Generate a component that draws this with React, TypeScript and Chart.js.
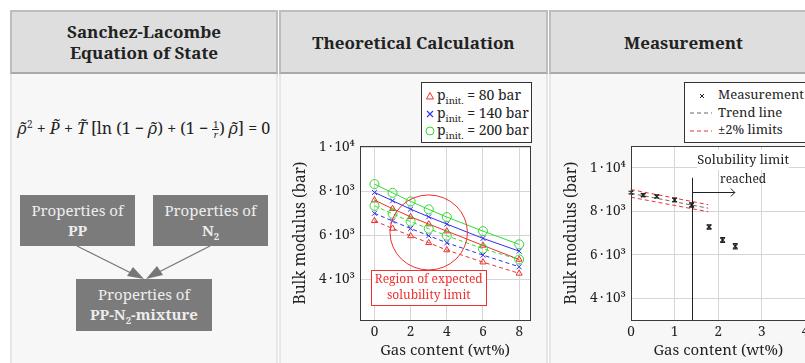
import React, { useEffect, useRef } from 'react';
import { Chart, registerables } from 'chart.js';
Chart.register(...registerables);

const FONT = '"Noto Serif", "Liberation Serif"';
const TXT = '#222222';
const GRID = '#d6d6d6';
const RED = '#ee3030';
const BLUE = '#3030ee';
const GREEN = '#30dd30';
const TS = '\u2009';

// ---- Theoretical calculation ----
const calcGas = [0, 1, 2, 3, 4, 6, 8];
const solid80 = [7590, 7200, 6830, 6500, 6180, 5530, 4890];
const solid140 = [7940, 7560, 7180, 6830, 6500, 5850, 5270];
const solid200 = [8320, 7920, 7530, 7170, 6820, 6180, 5580];
const dashed80 = [6650, 6300, 5960, 5650, 5320, 4770, 4260];
const dashed140 = [6990, 6640, 6300, 5970, 5650, 5090, 4560];
const dashed200 = [7330, 6970, 6610, 6290, 5970, 5380, 4890];
const calcXTicks = [0, 2, 4, 6, 8];
const bulkTicks = [4000, 6000, 8000, 10000];
const bulkTickLabels = [`4${TS}·${TS}10³`, `6${TS}·${TS}10³`, `8${TS}·${TS}10³`, `1${TS}·${TS}10⁴`];
const calcLegend = ['80 bar', '140 bar', '200 bar'];

// ---- Measurement ----
const measGas = [0, 0.28, 0.59, 1.0, 1.39, 1.79, 2.1, 2.39];
const measBulk = [8860, 8740, 8680, 8520, 8290, 7280, 6680, 6390];
const measErr = [60, 70, 70, 80, 100, 100, 110, 120];
const trendGas = [0, 1.77];
const trendBulk = [8820, 8140];
const upperBulk = [8996, 8303];
const lowerBulk = [8644, 7977];
const solubilityGas = 1.4;
const measXTicks = [0, 1, 2, 3, 4];

const frame = {
  id: 'frame',
  beforeDraw(chart: any) {
    const { ctx, chartArea: a } = chart;
    ctx.save();
    ctx.fillStyle = '#ffffff';
    ctx.fillRect(a.left, a.top, a.right - a.left, a.bottom - a.top);
    ctx.restore();
  },
  afterDraw(chart: any) {
    const { ctx, chartArea: a } = chart;
    ctx.save();
    ctx.strokeStyle = '#3a3a3a';
    ctx.lineWidth = 1;
    ctx.strokeRect(Math.round(a.left) + 0.5, Math.round(a.top) + 0.5, Math.round(a.right - a.left), Math.round(a.bottom - a.top));
    ctx.restore();
  },
};

const regionPlugin = {
  id: 'region',
  afterDatasetsDraw(chart: any) {
    const { ctx } = chart;
    const x = chart.scales.x, y = chart.scales.y;
    const cx = x.getPixelForValue(3), cy = y.getPixelForValue(6120);
    const rx = x.getPixelForValue(3 + 2.14) - cx;
    const ry = y.getPixelForValue(6120 - 1705) - cy;
    ctx.save();
    ctx.strokeStyle = RED;
    ctx.lineWidth = 1;
    ctx.beginPath();
    ctx.ellipse(cx, cy, rx, ry, 0, 0, Math.PI * 2);
    ctx.stroke();
    const bx = x.getPixelForValue(3.0), by = y.getPixelForValue(3620);
    const w = 115, h = 35;
    ctx.fillStyle = '#ffffff';
    ctx.fillRect(Math.round(bx - w / 2) + 0.5, Math.round(by - h / 2) + 0.5, w, h);
    ctx.strokeRect(Math.round(bx - w / 2) + 0.5, Math.round(by - h / 2) + 0.5, w, h);
    ctx.fillStyle = RED;
    ctx.font = `12px ${FONT}`;
    ctx.textAlign = 'center';
    ctx.textBaseline = 'middle';
    ctx.fillText('Region of expected', bx, by - 8);
    ctx.fillText('solubility limit', bx, by + 8);
    ctx.restore();
  },
};

const measPlugin = {
  id: 'meas',
  afterDatasetsDraw(chart: any) {
    const { ctx } = chart;
    const x = chart.scales.x, y = chart.scales.y;
    ctx.save();
    ctx.strokeStyle = '#222';
    ctx.lineWidth = 1.2;
    measGas.forEach((g, i) => {
      const px = x.getPixelForValue(g);
      const y1 = y.getPixelForValue(measBulk[i] + measErr[i]);
      const y2 = y.getPixelForValue(measBulk[i] - measErr[i]);
      ctx.beginPath();
      ctx.moveTo(px, y1); ctx.lineTo(px, y2);
      ctx.moveTo(px - 2.5, y1); ctx.lineTo(px + 2.5, y1);
      ctx.moveTo(px - 2.5, y2); ctx.lineTo(px + 2.5, y2);
      ctx.stroke();
    });
    const sx = Math.round(x.getPixelForValue(solubilityGas)) + 0.5;
    ctx.lineWidth = 1;
    ctx.beginPath();
    ctx.moveTo(sx, y.getPixelForValue(3000));
    ctx.lineTo(sx, y.getPixelForValue(9540));
    ctx.stroke();
    const ay = Math.round(y.getPixelForValue(8870)) + 0.5;
    const ax2 = x.getPixelForValue(2.38);
    ctx.beginPath();
    ctx.moveTo(sx, ay); ctx.lineTo(ax2, ay);
    ctx.moveTo(ax2 - 4, ay - 4); ctx.lineTo(ax2, ay); ctx.lineTo(ax2 - 4, ay + 4);
    ctx.stroke();
    const tx = x.getPixelForValue(2.57);
    const t1 = y.getPixelForValue(10356);
    const t2 = y.getPixelForValue(9437);
    ctx.fillStyle = '#ffffff';
    ctx.fillRect(tx - 46, t1 - 10, 92, 20);
    ctx.fillStyle = TXT;
    ctx.font = `13px ${FONT}`;
    ctx.textAlign = 'center';
    ctx.textBaseline = 'middle';
    ctx.fillText('Solubility limit', tx, t1);
    ctx.font = `12px ${FONT}`;
    ctx.fillText('reached', tx, t2);
    ctx.restore();
  },
};

function makeScales(xMin: number, xMax: number, xTicks: number[], yMin: number, yMax: number) {
  return {
    x: {
      type: 'linear', min: xMin, max: xMax,
      afterBuildTicks: (ax: any) => { ax.ticks = xTicks.map((v) => ({ value: v })); },
      afterFit: (ax: any) => { ax.height = 43; },
      grid: { color: GRID, drawTicks: false, lineWidth: 1 },
      border: { display: false },
      ticks: { padding: 4, color: TXT, font: { family: FONT, size: 13.5 }, maxRotation: 0, autoSkip: false, callback: (v: any) => String(v) },
      title: { display: true, text: 'Gas content (wt%)', color: TXT, font: { family: FONT, size: 15 }, padding: { top: 0, bottom: 3 } },
    },
    y: {
      type: 'linear', min: yMin, max: yMax,
      afterBuildTicks: (ax: any) => { ax.ticks = bulkTicks.map((v) => ({ value: v })); },
      afterFit: (ax: any) => { ax.width = 80; },
      grid: { color: GRID, drawTicks: false, lineWidth: 1 },
      border: { display: false },
      ticks: { padding: 5, color: TXT, font: { family: FONT, size: 13.5 }, autoSkip: false, callback: (v: any) => bulkTickLabels[bulkTicks.indexOf(v)] },
      title: { display: true, text: 'Bulk modulus (bar)', color: TXT, font: { family: FONT, size: 15.5 }, padding: { top: 11, bottom: 0 } },
    },
  };
}

function theoryConfig(): any {
  const ds = (vals: number[], color: string, style: string, r: number, dashed: boolean) => ({
    data: calcGas.map((x, i) => ({ x, y: vals[i] })),
    showLine: true,
    borderColor: color,
    borderWidth: 1,
    borderDash: dashed ? [4, 3] : [],
    pointStyle: style,
    pointRadius: r,
    pointHoverRadius: r,
    pointBorderColor: color,
    pointBackgroundColor: 'rgba(0,0,0,0)',
    pointBorderWidth: 1,
  });
  return {
    type: 'scatter',
    data: {
      datasets: [
        ds(dashed80, RED, 'triangle', 3.5, true),
        ds(dashed140, BLUE, 'crossRot', 3.5, true),
        ds(dashed200, GREEN, 'circle', 4.5, true),
        ds(solid80, RED, 'triangle', 3.5, false),
        ds(solid140, BLUE, 'crossRot', 3.5, false),
        ds(solid200, GREEN, 'circle', 4.5, false),
      ],
    },
    options: {
      animation: false, responsive: false, maintainAspectRatio: false,
      layout: { padding: { top: 71, right: 16, bottom: 0, left: 0 } },
      plugins: { legend: { display: false }, tooltip: { enabled: false } },
      scales: makeScales(-0.8, 8.6, calcXTicks, 2140, 10050),
    },
    plugins: [frame, regionPlugin],
  };
}

function measConfig(): any {
  const line = (xs: number[], ys: number[], color: string) => ({
    data: xs.map((x, i) => ({ x, y: ys[i] })),
    showLine: true, borderColor: color, borderWidth: 1, borderDash: [4, 3], pointRadius: 0,
  });
  return {
    type: 'scatter',
    data: {
      datasets: [
        line(trendGas, upperBulk, RED),
        line(trendGas, lowerBulk, RED),
        line(trendGas, trendBulk, '#666666'),
        {
          data: measGas.map((x, i) => ({ x, y: measBulk[i] })),
          showLine: false, pointStyle: 'crossRot', pointRadius: 3, pointHoverRadius: 3,
          pointBorderColor: '#222', pointBackgroundColor: 'rgba(0,0,0,0)', pointBorderWidth: 1.2,
        },
      ],
    },
    options: {
      animation: false, responsive: false, maintainAspectRatio: false,
      layout: { padding: { top: 71, right: 25.5, bottom: 0, left: 0 } },
      plugins: { legend: { display: false }, tooltip: { enabled: false } },
      scales: makeScales(0, 4, measXTicks, 3000, 11000),
    },
    plugins: [frame, measPlugin],
  };
}

function ChartCanvas({ make, left, top, width, height }: any) {
  const ref = useRef<HTMLCanvasElement>(null);
  useEffect(() => {
    const c = new Chart(ref.current as HTMLCanvasElement, make());
    return () => c.destroy();
  }, []);
  return <canvas ref={ref} width={width} height={height} style={{ position: 'absolute', left, top, width, height }} />;
}

const abs = (l: number, t: number, w: number, h: number, extra: any = {}) => ({ position: 'absolute' as const, left: l, top: t, width: w, height: h, boxSizing: 'border-box' as const, ...extra });

function Marker({ kind, color }: { kind: string; color: string }) {
  return (
    <svg width="10" height="10" style={{ display: 'inline-block', verticalAlign: 'middle' }}>
      {kind === 'tri' && <polygon points="5,1.5 8.5,8 1.5,8" fill="none" stroke={color} strokeWidth="1" />}
      {kind === 'x' && <path d="M2,2 L8,8 M8,2 L2,8" stroke={color} strokeWidth="1.1" />}
      {kind === 'o' && <circle cx="5" cy="5" r="4" fill="none" stroke={color} strokeWidth="1" />}
    </svg>
  );
}

function Box({ l, t, w, h, line1, line2 }: any) {
  return (
    <div style={abs(l, t, w, h, { background: '#7b7b7b', color: '#ededed', fontFamily: FONT, fontSize: 15, textAlign: 'center', lineHeight: '20px', paddingTop: 5 })}>
      <div>{line1}</div>
      <div style={{ fontWeight: 'bold' }}>{line2}</div>
    </div>
  );
}

export default function App() {
  const headerStyle = { background: '#dedede', border: '2px solid #bdbdbd', borderBottomColor: '#a9a9a9', fontFamily: FONT, fontWeight: 'bold', fontSize: 17, color: TXT, display: 'flex', alignItems: 'center', justifyContent: 'center', textAlign: 'center' as const, lineHeight: '21px' };
  const bodyStyle = { background: '#f7f7f7', borderLeft: '2px solid #e6e6e6', borderRight: '2px solid #e6e6e6' };
  const markers: any[] = [['tri', RED], ['x', BLUE], ['o', GREEN]];
  const sub = { fontSize: 9.5, lineHeight: 0 };
  return (
    <div style={{ position: 'fixed', left: 0, top: 0, width: 805, height: 363, overflow: 'hidden', background: '#ffffff' }}>
      <div style={abs(10, 73, 268, 300, bodyStyle)} />
      <div style={abs(279, 73, 269, 300, bodyStyle)} />
      <div style={abs(549, 73, 280, 300, bodyStyle)} />
      <div style={abs(10, 10, 268, 64, headerStyle)}>
        <div>Sanchez-Lacombe<br />Equation of State</div>
      </div>
      <div style={abs(279, 10, 269, 64, headerStyle)}>Theoretical Calculation</div>
      <div style={abs(549, 10, 280, 64, { ...headerStyle, justifyContent: 'flex-start', paddingLeft: 73 })}>Measurement</div>

      <div style={abs(10, 117, 268, 26, { textAlign: 'center', fontFamily: FONT, fontSize: 16, color: TXT, whiteSpace: 'nowrap' })}>
        <i>ρ̃</i><sup style={{ fontSize: 10, lineHeight: 0 }}>2</sup> + <i>P̃</i> + <i>T̃</i> [ln (1 − <i>ρ̃</i>) + (1 −{' '}
        <span style={{ display: 'inline-flex', flexDirection: 'column', fontSize: 9, lineHeight: '9px', verticalAlign: 'middle', textAlign: 'center' }}>
          <span style={{ borderBottom: '0.8px solid #222', padding: '0 1px' }}>1</span>
          <span><i>r</i></span>
        </span>
        ) <i>ρ̃</i>] = 0
      </div>

      <Box l={20} t={195} w={115} h={51} line1="Properties of" line2="PP" />
      <Box l={153} t={195} w={115} h={51} line1="Properties of" line2={<span>N<sub style={sub}>2</sub></span>} />
      <Box l={76} t={279} w={136} h={52} line1="Properties of" line2={<span>PP-N<sub style={sub}>2</sub>-mixture</span>} />
      <svg width="805" height="363" style={{ position: 'absolute', left: 0, top: 0, pointerEvents: 'none' }}>
        <line x1="77" y1="246" x2="133" y2="274" stroke="#777" strokeWidth="1.2" />
        <polygon points="144,279 127,276 133,267" fill="#777" />
        <line x1="210" y1="246" x2="155" y2="274" stroke="#777" strokeWidth="1.2" />
        <polygon points="146,279 157,266 163,275" fill="#777" />
      </svg>

      <ChartCanvas make={theoryConfig} left={280} top={75} width={266} height={288} />
      <ChartCanvas make={measConfig} left={551} top={75} width={280} height={288} />

      <div style={abs(421, 82, 111, 61, { background: '#fff', border: '1px solid #333', fontFamily: FONT, fontSize: 14, color: TXT, padding: '3px 0 0 3px' })}>
        {calcLegend.map((t, i) => (
          <div key={t} style={{ height: 17.5, lineHeight: '17px', whiteSpace: 'nowrap' }}>
            <Marker kind={markers[i][0]} color={markers[i][1]} />
            <span style={{ marginLeft: 2 }}>p<sub style={sub}>init.</sub> = {t}</span>
          </div>
        ))}
      </div>

      <div style={abs(684, 82, 130, 61, { background: '#fff', border: '1px solid #333', fontFamily: FONT, fontSize: 13, color: TXT, padding: '3px 0 0 4px' })}>
        <div style={{ height: 17.5, lineHeight: '17px', whiteSpace: 'nowrap' }}>
          <svg width="26" height="10" style={{ verticalAlign: 'middle' }}><path d="M11,3 L15,7 M15,3 L11,7" stroke="#222" strokeWidth="1" /></svg>
          <span style={{ marginLeft: 3 }}>Measurement</span>
        </div>
        <div style={{ height: 17.5, lineHeight: '17px', whiteSpace: 'nowrap' }}>
          <svg width="26" height="10" style={{ verticalAlign: 'middle' }}><line x1="1" y1="5" x2="23" y2="5" stroke="#666" strokeWidth="1" strokeDasharray="4 3" /></svg>
          <span style={{ marginLeft: 3 }}>Trend line</span>
        </div>
        <div style={{ height: 17.5, lineHeight: '17px', whiteSpace: 'nowrap' }}>
          <svg width="26" height="10" style={{ verticalAlign: 'middle' }}><line x1="1" y1="5" x2="23" y2="5" stroke={RED} strokeWidth="1" strokeDasharray="4 3" /></svg>
          <span style={{ marginLeft: 3 }}>±2% limits</span>
        </div>
      </div>
    </div>
  );
}
